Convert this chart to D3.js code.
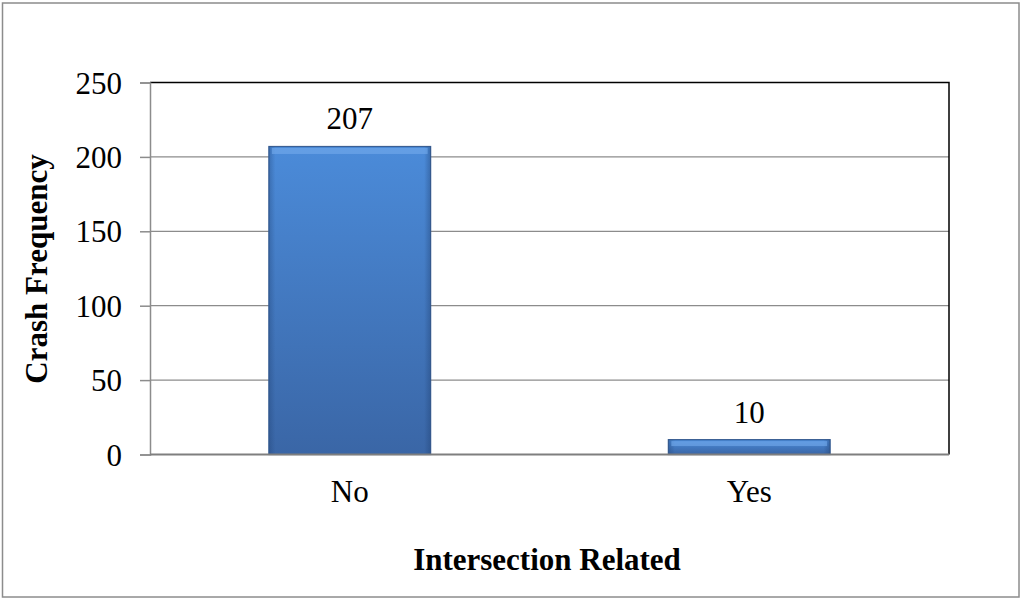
<!DOCTYPE html>
<html>
<head>
<meta charset="utf-8">
<script src="https://cdn.jsdelivr.net/npm/d3@7"></script>
<style>
  body { margin: 0; background: #fff; }
  svg text { font-family: "Liberation Serif", "Times New Roman", serif; }
</style>
</head>
<body>
<div id="chart"></div>
<script>
// chart data
const categories = ["No", "Yes"];
const crashCounts = [207, 10];
const yTicks = [0, 50, 100, 150, 200, 250];

const width = 1022, height = 599;
const margin = { top: 82.5, right: 73, bottom: 144.5, left: 150 };
const fontSize = 31;

const svg = d3.select("#chart")
  .append("svg")
  .attr("width", width)
  .attr("height", height);

// outer chart border
svg.append("rect")
  .attr("x", 2.5).attr("y", 3)
  .attr("width", 1016.5).attr("height", 594)
  .attr("fill", "none")
  .attr("stroke", "#8c8c8c")
  .attr("stroke-width", 1.5);

// bar gradients
const defs = svg.append("defs");
const vGrad = defs.append("linearGradient")
  .attr("id", "barGrad").attr("x1", 0).attr("y1", 0).attr("x2", 0).attr("y2", 1);
vGrad.append("stop").attr("offset", "0%").attr("stop-color", "#4b8bd9");
vGrad.append("stop").attr("offset", "100%").attr("stop-color", "#3a66a6");

const hGrad = defs.append("linearGradient")
  .attr("id", "edgeGrad").attr("x1", 0).attr("y1", 0).attr("x2", 1).attr("y2", 0);
hGrad.append("stop").attr("offset", "0%").attr("stop-color", "#1f3f70").attr("stop-opacity", 0.35);
hGrad.append("stop").attr("offset", "4%").attr("stop-color", "#1f3f70").attr("stop-opacity", 0);
hGrad.append("stop").attr("offset", "96%").attr("stop-color", "#1f3f70").attr("stop-opacity", 0);
hGrad.append("stop").attr("offset", "100%").attr("stop-color", "#1f3f70").attr("stop-opacity", 0.4);

const plotW = width - margin.left - margin.right;
const plotH = height - margin.top - margin.bottom;

const g = svg.append("g")
  .attr("transform", `translate(${margin.left},${margin.top})`);

const x = d3.scaleBand()
  .domain(categories)
  .range([0, plotW])
  .paddingInner(0.595)
  .paddingOuter(0.2975);

const y = d3.scaleLinear()
  .domain([0, 250])
  .range([plotH, 0]);

// gridlines
g.append("g")
  .selectAll("line")
  .data(yTicks.filter(d => d > 0 && d < 250))
  .enter()
  .append("line")
  .attr("x1", 0).attr("x2", plotW)
  .attr("y1", d => y(d)).attr("y2", d => y(d))
  .attr("stroke", "#8c8c8c")
  .attr("stroke-width", 1.2);

// plot frame (top and right)
g.append("path")
  .attr("d", `M0,0H${plotW}V${plotH}`)
  .attr("fill", "none")
  .attr("stroke", "#000")
  .attr("stroke-width", 1.5);

// bars
const bars = g.selectAll("g.bar")
  .data(crashCounts)
  .enter()
  .append("g")
  .attr("class", "bar");

bars.append("rect")
  .attr("x", (d, i) => x(categories[i]))
  .attr("y", d => y(d))
  .attr("width", x.bandwidth())
  .attr("height", d => plotH - y(d))
  .attr("fill", "url(#barGrad)")
  .attr("stroke", "#3a5f94")
  .attr("stroke-width", 1.2);

bars.append("rect")
  .attr("x", (d, i) => x(categories[i]))
  .attr("y", d => y(d))
  .attr("width", x.bandwidth())
  .attr("height", d => plotH - y(d))
  .attr("fill", "url(#edgeGrad)");

// light bevel at bar top
bars.append("rect")
  .attr("x", (d, i) => x(categories[i]) + 3)
  .attr("y", d => y(d) + 1.5)
  .attr("width", x.bandwidth() - 6)
  .attr("height", d => Math.min(6, (plotH - y(d)) / 3))
  .attr("fill", "#74acec")
  .attr("opacity", 0.6);

// value labels
bars.append("text")
  .attr("x", (d, i) => x(categories[i]) + x.bandwidth() / 2)
  .attr("y", d => y(d) - 17)
  .attr("text-anchor", "middle")
  .attr("font-size", fontSize)
  .attr("fill", "#000")
  .text(d => d);

// y axis
const yAxis = g.append("g")
  .call(d3.axisLeft(y).tickValues(yTicks).tickSize(10).tickPadding(18));
yAxis.select(".domain").attr("stroke", "#8c8c8c").attr("stroke-width", 1.5);
yAxis.selectAll(".tick line").attr("stroke", "#8c8c8c").attr("stroke-width", 1.5);
yAxis.selectAll(".tick text")
  .attr("font-size", fontSize)
  .attr("fill", "#000")
  .attr("dy", "0.34em")
  .style("font-family", "'Liberation Serif', serif");

// x axis
const xAxis = g.append("g")
  .attr("transform", `translate(0,${plotH})`)
  .call(d3.axisBottom(x).tickSize(0).tickPadding(47));
xAxis.select(".domain").attr("stroke", "#7f7f7f").attr("stroke-width", 1.8)
  .attr("d", `M0,0H${plotW}`);
xAxis.selectAll(".tick text")
  .attr("font-size", fontSize)
  .attr("fill", "#000")
  .attr("dy", "0")
  .style("font-family", "'Liberation Serif', serif");

// axis titles
svg.append("text")
  .attr("x", 547)
  .attr("y", 570)
  .attr("text-anchor", "middle")
  .attr("font-size", fontSize)
  .attr("font-weight", "bold")
  .text("Intersection Related");

svg.append("text")
  .attr("transform", "translate(47,269) rotate(-90)")
  .attr("text-anchor", "middle")
  .attr("font-size", fontSize)
  .attr("font-weight", "bold")
  .text("Crash Frequency");
</script>
</body>
</html>
